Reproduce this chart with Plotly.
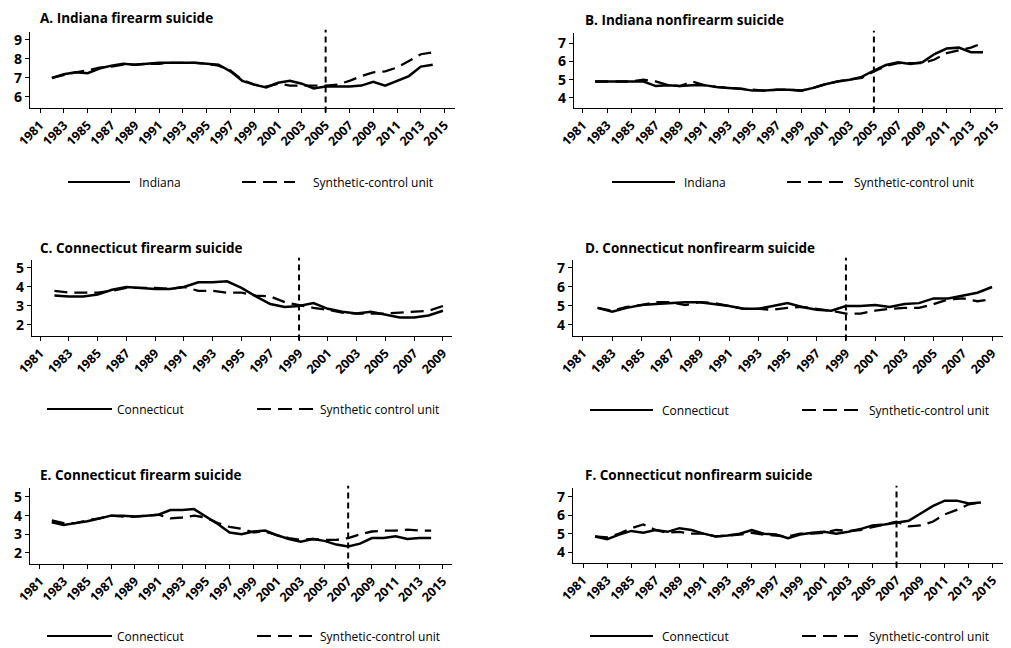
import plotly.graph_objects as go

# ---------------- data ----------------
years_long = list(range(1982, 2015))   # 1982-2014
years_short = list(range(1982, 2010))  # 1982-2009

indiana_firearm = [7.0, 7.2, 7.3, 7.25, 7.5, 7.65, 7.75, 7.7, 7.75, 7.8, 7.8, 7.8, 7.8, 7.75, 7.7, 7.35,
                   6.85, 6.65, 6.5, 6.75, 6.85, 6.7, 6.45, 6.55, 6.55, 6.55, 6.6, 6.8, 6.6, 6.85, 7.1, 7.6, 7.7]
synth_a = [7.0, 7.15, 7.3, 7.4, 7.55, 7.6, 7.7, 7.7, 7.75, 7.75, 7.8, 7.8, 7.8, 7.75, 7.65, 7.4,
           6.9, 6.65, 6.55, 6.7, 6.6, 6.6, 6.6, 6.6, 6.65, 6.85, 7.1, 7.3, 7.35, 7.55, 7.9, 8.25, 8.35]

indiana_nonfirearm = [4.9, 4.9, 4.9, 4.9, 4.9, 4.65, 4.7, 4.65, 4.7, 4.7, 4.6, 4.55, 4.5, 4.4, 4.4, 4.45,
                      4.45, 4.4, 4.55, 4.75, 4.9, 5.0, 5.15, 5.5, 5.8, 5.95, 5.85, 5.95, 6.4, 6.7, 6.75, 6.5, 6.5]
synth_b = [4.9, 4.9, 4.9, 4.9, 5.0, 4.9, 4.7, 4.65, 4.9, 4.7, 4.6, 4.55, 4.5, 4.45, 4.4, 4.45,
           4.45, 4.4, 4.55, 4.75, 4.9, 5.0, 5.1, 5.45, 5.75, 5.9, 5.9, 5.9, 6.1, 6.45, 6.6, 6.75, 7.0]

ct_firearm_c = [3.55, 3.5, 3.5, 3.6, 3.85, 4.0, 3.95, 3.9, 3.9, 4.0, 4.25, 4.25, 4.3, 3.95, 3.5, 3.1,
                2.95, 3.0, 3.15, 2.85, 2.7, 2.6, 2.7, 2.55, 2.4, 2.4, 2.5, 2.75]
synth_c = [3.8, 3.7, 3.7, 3.7, 3.8, 3.95, 3.95, 3.95, 3.9, 4.0, 3.8, 3.8, 3.7, 3.7, 3.55, 3.5,
           3.2, 3.05, 2.9, 2.8, 2.65, 2.6, 2.6, 2.6, 2.65, 2.7, 2.75, 3.0]

ct_nonfirearm_d = [4.9, 4.7, 4.9, 5.05, 5.1, 5.15, 5.2, 5.2, 5.1, 5.0, 4.85, 4.85, 5.0, 5.15, 4.95, 4.8,
                   4.75, 5.0, 5.0, 5.05, 4.95, 5.1, 5.15, 5.4, 5.4, 5.55, 5.7, 6.0]
synth_d = [4.9, 4.75, 4.95, 5.05, 5.2, 5.2, 5.05, 5.2, 5.15, 5.0, 4.85, 4.85, 4.8, 4.9, 4.95, 4.85,
           4.75, 4.6, 4.6, 4.75, 4.85, 4.9, 4.9, 5.1, 5.35, 5.4, 5.25, 5.35]

ct_firearm_e = [3.65, 3.5, 3.6, 3.7, 3.85, 4.0, 4.0, 3.95, 4.0, 4.05, 4.3, 4.3, 4.35, 3.95, 3.55, 3.1,
                3.0, 3.15, 3.2, 2.95, 2.75, 2.6, 2.75, 2.65, 2.45, 2.35, 2.5, 2.8, 2.8, 2.9, 2.75, 2.8, 2.8]
synth_e = [3.75, 3.6, 3.6, 3.75, 3.85, 4.0, 3.95, 3.95, 4.0, 4.05, 3.85, 3.9, 4.0, 3.9, 3.6, 3.4,
           3.3, 3.1, 3.15, 2.95, 2.8, 2.7, 2.75, 2.7, 2.7, 2.8, 3.0, 3.15, 3.2, 3.2, 3.25, 3.2, 3.2]

ct_nonfirearm_f = [4.85, 4.7, 4.95, 5.15, 5.05, 5.2, 5.1, 5.3, 5.2, 5.0, 4.85, 4.9, 5.0, 5.2, 5.0, 4.95,
                   4.75, 4.95, 5.05, 5.1, 5.0, 5.1, 5.25, 5.45, 5.5, 5.6, 5.7, 6.1, 6.5, 6.8, 6.8, 6.65, 6.7]
synth_f = [4.85, 4.8, 5.0, 5.3, 5.5, 5.2, 5.05, 5.1, 5.0, 5.0, 4.85, 4.9, 4.95, 5.05, 4.95, 4.9,
           4.85, 5.0, 5.0, 5.05, 5.2, 5.15, 5.2, 5.35, 5.5, 5.65, 5.4, 5.45, 5.65, 6.05, 6.3, 6.6, 6.7]

titles = ["A. Indiana firearm suicide", "B. Indiana nonfirearm suicide",
          "C. Connecticut firearm suicide", "D. Connecticut nonfirearm suicide",
          "E. Connecticut firearm suicide", "F. Connecticut nonfirearm suicide"]
states = ["Indiana", "Indiana", "Connecticut", "Connecticut", "Connecticut", "Connecticut"]
synth_labels = ["Synthetic-control unit", "Synthetic-control unit", "Synthetic control unit",
                "Synthetic-control unit", "Synthetic-control unit", "Synthetic-control unit"]
intervention_years = [2005, 2005, 1999, 1999, 2007, 2007]
ticks_long = list(range(1981, 2016, 2))
ticks_short = list(range(1981, 2010, 2))
ytick_sets = [[6, 7, 8, 9], [4, 5, 6, 7], [2, 3, 4, 5], [4, 5, 6, 7], [2, 3, 4, 5], [4, 5, 6, 7]]

series = [
    (years_long, indiana_firearm, synth_a),
    (years_long, indiana_nonfirearm, synth_b),
    (years_short, ct_firearm_c, synth_c),
    (years_short, ct_nonfirearm_d, synth_d),
    (years_long, ct_firearm_e, synth_e),
    (years_long, ct_nonfirearm_f, synth_f),
]

# ---------------- layout geometry (pixels) ----------------
W, H = 1011, 648
boxes = [(30, 455, 32, 108), (574, 1003, 33, 108),
         (32, 452, 260, 336), (573, 1003, 260, 336),
         (30, 452, 488, 564), (573, 1003, 488, 563)]
xranges = [[1980.16, 2015.87], [1980.26, 2015.65],
           [1980.44, 2009.63], [1980.32, 2009.75],
           [1980.16, 2015.76], [1980.17, 2015.83]]
yranges = [[5.42, 9.42], [3.45, 7.55], [1.42, 5.42], [3.42, 7.42], [1.41, 5.48], [3.4, 7.49]]
title_pos = [(38, 18), (583, 20), (38, 248), (583, 248), (38, 475), (583, 475)]
# legend key geometry: (solid x0, solid x1, text1 x, dashed x0, dashed x1, text2 x, y)
legend_geo = [(68, 130, 137, 242, 295, 311, 182),
              (612, 675, 682, 787, 843, 852, 182),
              (47, 112, 115, 257, 313, 318, 409),
              (590, 653, 660, 802, 858, 867, 410),
              (47, 112, 115, 257, 312, 318, 636),
              (590, 653, 660, 802, 860, 867, 636)]

FONT = "Open Sans"
fig = go.Figure()
annotations = []
shapes = []
layout_axes = {}

def px_x(v):
    return v / W

def px_y(v):
    return 1 - v / H

for i in range(6):
    k = "" if i == 0 else str(i + 1)
    xs, real, syn = series[i]
    fig.add_trace(go.Scatter(x=xs, y=real, mode="lines", name=states[i], showlegend=False,
                             line=dict(color="black", width=2.5),
                             xaxis="x" + k, yaxis="y" + k))
    fig.add_trace(go.Scatter(x=xs, y=syn, mode="lines", name=synth_labels[i], showlegend=False,
                             line=dict(color="black", width=2.3, dash="13px,7px"),
                             xaxis="x" + k, yaxis="y" + k))
    l, r, t, b = boxes[i]
    ticks = ticks_short if i in (2, 3) else ticks_long
    layout_axes["xaxis" + k] = dict(
        domain=[px_x(l), px_x(r)], range=xranges[i], anchor="y" + k,
        tickmode="array", tickvals=ticks, ticktext=[str(v) for v in ticks],
        tickangle=-45, ticks="outside", ticklen=4, tickwidth=1.3, tickcolor="black",
        showline=True, linecolor="black", linewidth=1.3, showgrid=False, zeroline=False,
        tickfont=dict(family=FONT, size=12.5, color="black", weight="bold"),
    )
    layout_axes["yaxis" + k] = dict(
        domain=[px_y(b), px_y(t)], range=yranges[i], anchor="x" + k,
        tickmode="array", tickvals=ytick_sets[i],
        ticks="outside", ticklen=4, tickwidth=1.3, tickcolor="black",
        showline=True, linecolor="black", linewidth=1.3, showgrid=False, zeroline=False,
        tickfont=dict(family=FONT, size=14, color="black", weight="bold"),
    )
    shapes.append(dict(type="line", xref="x" + k, yref=f"y{k} domain",
                       x0=intervention_years[i], x1=intervention_years[i], y0=-0.06, y1=1.03,
                       line=dict(color="black", width=2, dash="6px,4px")))
    tx, ty = title_pos[i]
    annotations.append(dict(text=f"<b>{titles[i]}</b>", xref="paper", yref="paper",
                            x=px_x(tx), y=px_y(ty), xanchor="left", yanchor="middle",
                            showarrow=False, font=dict(family=FONT, size=13.5, color="black")))
    # legend keys (one per panel)
    s0, s1, t1, d0, d1, t2, ly = legend_geo[i]
    shapes.append(dict(type="line", xref="paper", yref="paper",
                       x0=px_x(s0), x1=px_x(s1), y0=px_y(ly), y1=px_y(ly),
                       line=dict(color="black", width=2.2)))
    shapes.append(dict(type="line", xref="paper", yref="paper",
                       x0=px_x(d0), x1=px_x(d1), y0=px_y(ly), y1=px_y(ly),
                       line=dict(color="black", width=2.2, dash="14px,7px")))
    annotations.append(dict(text=states[i], xref="paper", yref="paper",
                            x=px_x(t1), y=px_y(ly), xanchor="left", yanchor="middle",
                            showarrow=False, font=dict(family=FONT, size=12, color="black")))
    annotations.append(dict(text=synth_labels[i], xref="paper", yref="paper",
                            x=px_x(t2), y=px_y(ly), xanchor="left", yanchor="middle",
                            showarrow=False, font=dict(family=FONT, size=12, color="black")))

fig.update_layout(
    width=W, height=H, margin=dict(l=0, r=0, t=0, b=0, autoexpand=False),
    paper_bgcolor="white", plot_bgcolor="white",
    showlegend=False, annotations=annotations, shapes=shapes, **layout_axes,
)

fig.write_html("out.html", config={"displayModeBar": False},
               post_script="document.body.style.margin='0';document.body.style.overflow='hidden';")
